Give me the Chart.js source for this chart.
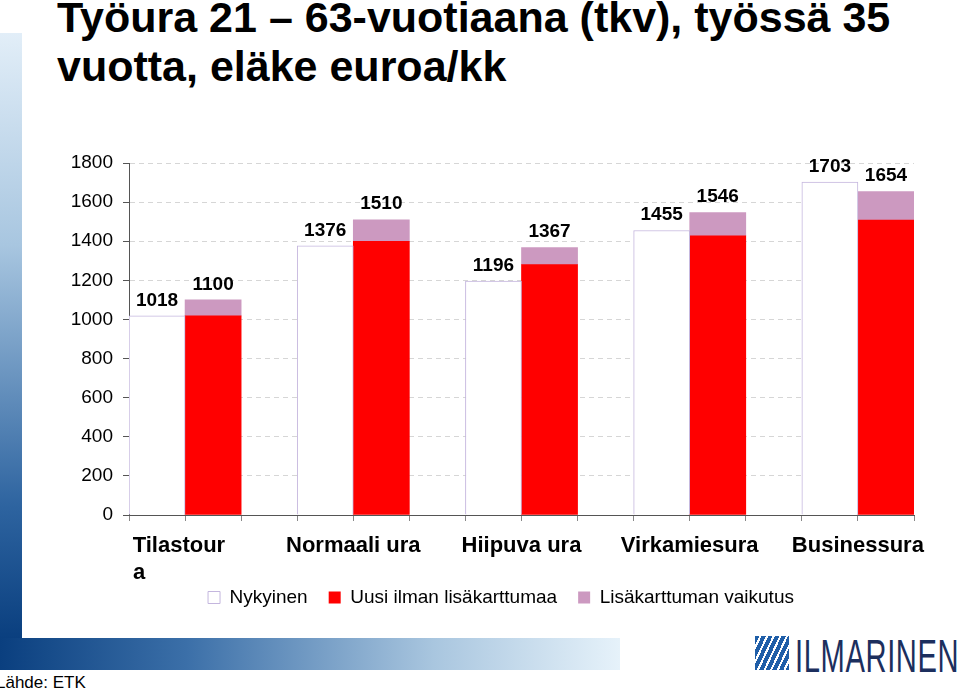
<!DOCTYPE html>
<html>
<head>
<meta charset="utf-8">
<script src="https://cdn.jsdelivr.net/npm/chart.js@4.4.1/dist/chart.umd.min.js"></script>
<style>
  body { margin:0; background:#fff; }
  #wrap { position:relative; width:960px; height:690px; overflow:hidden; font-family:"Liberation Sans", Arial, sans-serif; }
  #title { position:absolute; left:57px; top:-7px; font-size:43px; font-weight:bold; line-height:49px; color:#000; }
  #leftbar { position:absolute; left:0; top:33px; width:22px; height:605px; background:linear-gradient(to bottom, #e2eef8, #a8c6e0 35%, #2e64a0 78%, #0a3f7f); }
  #bottombar { position:absolute; left:0; top:638px; width:620px; height:32px; background:linear-gradient(to right, #0a3f7f, #3b6fa8 30%, #a9c6df 70%, #e6f2fa); }
  #logoicon { position:absolute; left:755px; top:636px; width:34px; height:34px;
    background:repeating-linear-gradient(115deg, #1f5ea8 0 4px, #fff 4px 6px); }
  #logotext { position:absolute; left:795px; top:628px; font-size:47px; color:#1c2f5e; transform:scaleX(0.62); transform-origin:left top; letter-spacing:1px; }
  #source { position:absolute; left:-4px; top:673px; font-size:17px; color:#000; }
  canvas { position:absolute; left:0; top:0; }
</style>
</head>
<body>
<div id="wrap">
  <div id="leftbar"></div>
  <div id="bottombar"></div>
  <div id="title">Työura 21 – 63-vuotiaana (tkv), työssä 35<br>vuotta, eläke euroa/kk</div>
  <div id="logoicon"></div>
  <div id="logotext">ILMARINEN</div>
  <div id="source">Lähde: ETK</div>
  <canvas id="chart" width="960" height="690"></canvas>
</div>
<script>
// kategoriat (Tilastoura rivitetty kuten alkuperaisessa)
const categories = [["Tilastour  ", "a               "], "Normaali ura", "Hiipuva ura", "Virkamiesura", "Businessura"];
const nykyinen = [1018, 1376, 1196, 1455, 1703];
const uusiIlman = [1018, 1400, 1280, 1427, 1508];
const lisakarttuma = [82, 110, 87, 119, 146];
const yTicks = [0, 200, 400, 600, 800, 1000, 1200, 1400, 1600, 1800];

// paikat: nykyinen, uusi, tyhja
let slotLabels = [], nykData = [], uusiData = [], lisaData = [];
for (let i = 0; i < categories.length; i++) {
    slotLabels.push(categories[i]); nykData.push(nykyinen[i]); uusiData.push(null); lisaData.push(null);
    slotLabels.push(''); nykData.push(null); uusiData.push(uusiIlman[i]); lisaData.push(lisakarttuma[i]);
    if (i < categories.length - 1) {
        slotLabels.push(''); nykData.push(null); uusiData.push(null); lisaData.push(null);
    }
}

Chart.defaults.font.family = '"Liberation Sans", Arial, sans-serif';
Chart.defaults.color = '#000';

// arvot palkkien ylapuolelle
const valueLabels = {
    id: 'valueLabels',
    afterDatasetsDraw(chart) {
        let ctx = chart.ctx;
        ctx.save();
        ctx.font = 'bold 19px "Liberation Sans", Arial';
        ctx.fillStyle = '#000';
        ctx.textAlign = 'center';
        ctx.textBaseline = 'bottom';
        chart.getDatasetMeta(0).data.forEach((bar, i) => {
            if (nykData[i] == null) return;
            ctx.fillText(nykData[i], bar.x, bar.y - 6);
        });
        chart.getDatasetMeta(2).data.forEach((bar, i) => {
            if (lisaData[i] == null) return;
            ctx.fillText(uusiData[i] + lisaData[i], bar.x, bar.y - 6);
        });
        ctx.restore();
    }
};

// selite hieman ylemmas
const legendShift = {
    id: 'legendShift',
    afterUpdate(chart) {
        chart.legend.top -= 14;
        chart.legend.bottom -= 14;
    }
};

const data = {
    labels: slotLabels,
    datasets: [{
        label: 'Nykyinen',
        data: nykData,
        backgroundColor: '#ffffff',
        borderColor: '#c4b6de',
        borderWidth: 1
    }, {
        label: 'Uusi ilman lisäkarttumaa',
        data: uusiData,
        backgroundColor: '#ff0000',
        borderWidth: 0
    }, {
        label: 'Lisäkarttuman vaikutus',
        data: lisaData,
        backgroundColor: '#cc99c0',
        borderWidth: 0
    }]
};

const config = {
    type: 'bar',
    data: data,
    options: {
        responsive: false,
        animation: false,
        barPercentage: 1,
        categoryPercentage: 1,
        layout: { padding: { top: 163, left: 42, right: 0, bottom: 59 } },
        plugins: {
            tooltip: { enabled: false },
            legend: {
                position: 'bottom',
                labels: {
                    font: { size: 19 },
                    boxWidth: 12,
                    boxHeight: 12,
                    padding: 21,
                    color: '#000'
                }
            }
        },
        scales: {
            x: {
                stacked: true,
                grid: { display: true, drawOnChartArea: false, drawTicks: true, tickLength: 6, color: '#888' },
                border: { color: '#555' },
                ticks: {
                    autoSkip: false,
                    maxRotation: 0,
                    minRotation: 0,
                    labelOffset: 28,
                    padding: 12,
                    font: { size: 22, weight: 'bold' },
                    color: '#000'
                },
                afterFit(s) { s.height = 66; }
            },
            y: {
                stacked: true,
                min: 0,
                max: 1800,
                afterBuildTicks(s) { s.ticks = yTicks.map(v => ({ value: v })); },
                grid: {
                    color: c => (c.tick && c.tick.value === 0) ? 'rgba(0,0,0,0)' : '#d6d6d6',
                    tickColor: '#555',
                    tickLength: 6
                },
                border: { color: '#555', dash: [5, 4] },
                ticks: { font: { size: 19 }, padding: 10, color: '#000', callback: v => String(v) },
                afterFit(s) { s.width = 87; }
            },
            yR: {
                type: 'linear',
                position: 'right',
                display: true,
                grid: { display: false },
                border: { display: false },
                ticks: { display: false },
                afterFit(s) { s.width = 46; }
            }
        }
    },
    plugins: [valueLabels, legendShift]
};

let ctx = document.getElementById('chart').getContext('2d');
new Chart(ctx, config);
</script>
</body>
</html>
